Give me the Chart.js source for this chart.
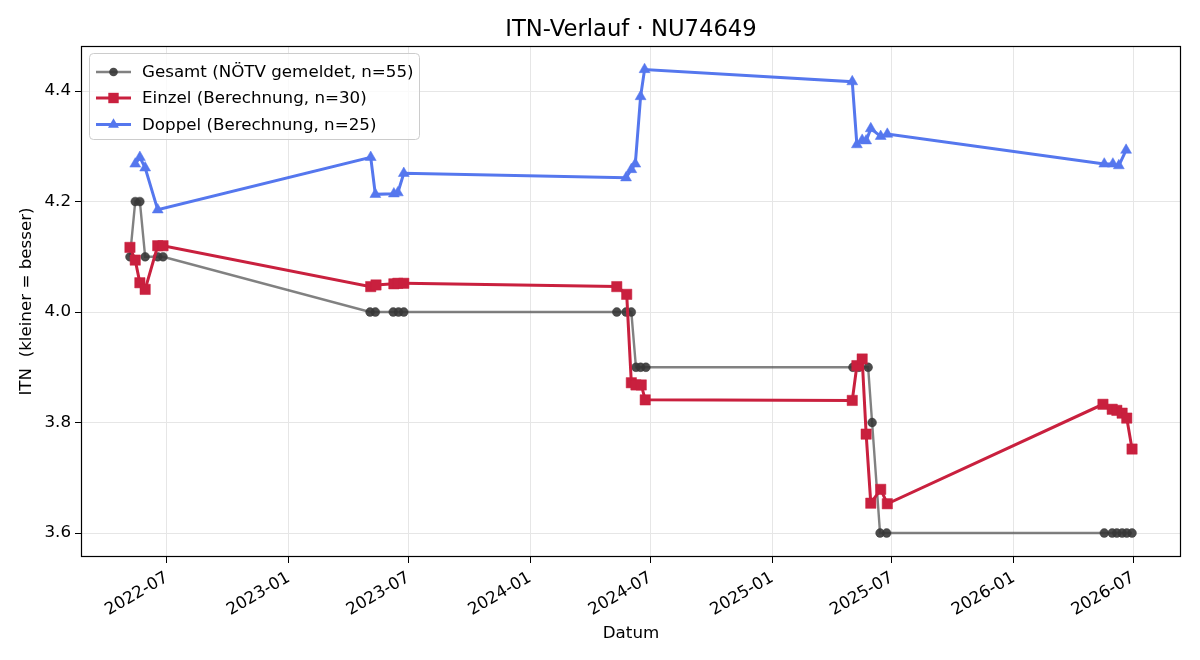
<!DOCTYPE html>
<html>
<head>
<meta charset="utf-8">
<script src="https://cdn.jsdelivr.net/npm/chart.js@4/dist/chart.umd.min.js"></script>
<style>
  html, body { margin: 0; padding: 0; background: #fff; }
  #c { display: block; }
</style>
</head>
<body>
<canvas id="c" width="1200" height="660"></canvas>
<script>
// Data
const gesamtDates = ['2022-05-06','2022-05-14','2022-05-21','2022-05-29','2022-06-17','2022-06-25',
  '2023-05-04','2023-05-12','2023-06-08','2023-06-16','2023-06-24',
  '2024-05-11','2024-05-25','2024-06-02','2024-06-09','2024-06-16','2024-06-24',
  '2025-05-03','2025-05-12','2025-05-26','2025-06-01','2025-06-13','2025-06-23',
  '2026-05-18','2026-05-30','2026-06-06','2026-06-14','2026-06-21','2026-06-29'];
const gesamtValues = [4.1,4.2,4.2,4.1,4.1,4.1,
  4.0,4.0,4.0,4.0,4.0,
  4.0,4.0,4.0,3.9,3.9,3.9,
  3.9,3.9,3.9,3.8,3.6,3.6,
  3.6,3.6,3.6,3.6,3.6,3.6];

const einzelDates = ['2022-05-06','2022-05-14','2022-05-21','2022-05-29','2022-06-17','2022-06-25',
  '2023-05-05','2023-05-13','2023-06-09','2023-06-15','2023-06-24',
  '2024-05-11','2024-05-26','2024-06-02','2024-06-09','2024-06-17','2024-06-23',
  '2025-05-02','2025-05-09','2025-05-17','2025-05-23','2025-05-30','2025-06-14','2025-06-24',
  '2026-05-16','2026-05-30','2026-06-06','2026-06-14','2026-06-21','2026-06-29'];
const einzelValues = [4.117,4.094,4.053,4.041,4.12,4.12,
  4.046,4.049,4.051,4.052,4.052,
  4.046,4.032,3.872,3.868,3.868,3.841,
  3.84,3.903,3.915,3.779,3.654,3.679,3.653,
  3.833,3.824,3.822,3.817,3.808,3.752];

const doppelDates = ['2022-05-14','2022-05-21','2022-05-29','2022-06-17',
  '2023-05-05','2023-05-12','2023-06-09','2023-06-15','2023-06-24',
  '2024-05-25','2024-06-02','2024-06-08','2024-06-16','2024-06-22',
  '2025-05-02','2025-05-09','2025-05-17','2025-05-23','2025-05-30','2025-06-14','2025-06-24',
  '2026-05-18','2026-05-31','2026-06-09','2026-06-20'];
const doppelValues = [4.268,4.28,4.261,4.185,
  4.28,4.213,4.214,4.216,4.251,
  4.243,4.258,4.268,4.39,4.439,
  4.417,4.303,4.311,4.31,4.332,4.318,4.322,
  4.268,4.268,4.265,4.293];

const xTickLabels = ['2022-07','2023-01','2023-07','2024-01','2024-07','2025-01','2025-07','2026-01','2026-07'];
const yTickValues = [3.6, 3.8, 4.0, 4.2, 4.4];

const seriesNames = ['Gesamt (NÖTV gemeldet, n=55)', 'Einzel (Berechnung, n=30)', 'Doppel (Berechnung, n=25)'];

// Styling
const FONT = '"DejaVu Sans", sans-serif';
const grey = 'rgba(70,70,70,0.68)';
const greyPt = 'rgba(55,55,55,0.9)';
const red = '#c9203e';
const blue = '#5577ee';

const pts = (dates, vals) => dates.map((d, i) => ({ x: Date.parse(d), y: vals[i] }));

const xMin = Date.parse('2022-02-21');
const xMax = Date.parse('2026-09-11');

// legend drawn inside the plot, like the original
const innerLegend = {
  id: 'innerLegend',
  afterDraw(chart) {
    const ctx = chart.ctx;
    const a = chart.chartArea;
    ctx.save();
    // frame around plot
    ctx.strokeStyle = '#000';
    ctx.lineWidth = 1.2;
    ctx.strokeRect(a.left + 0.5, a.top + 0.5, a.right - a.left - 1, a.bottom - a.top - 1);

    // title
    ctx.fillStyle = '#000';
    ctx.font = '22.7px ' + FONT;
    ctx.textAlign = 'center';
    ctx.textBaseline = 'alphabetic';
    ctx.fillText('ITN-Verlauf · NU74649', (a.left + a.right) / 2, 36);

    // legend box
    const bx = 89, by = 53, bw = 330, bh = 86;
    ctx.beginPath();
    ctx.roundRect(bx + 0.5, by + 0.5, bw, bh, 4);
    ctx.fillStyle = 'rgba(255,255,255,0.8)';
    ctx.fill();
    ctx.strokeStyle = '#cccccc';
    ctx.lineWidth = 1;
    ctx.stroke();

    const rows = [72, 98, 124.5];
    const colors = [grey, red, blue];
    const ptColors = [greyPt, red, blue];
    const widths = [2.4, 3, 3];
    rows.forEach((y, i) => {
      ctx.strokeStyle = colors[i];
      ctx.lineWidth = widths[i];
      ctx.beginPath();
      ctx.moveTo(96, y);
      ctx.lineTo(131, y);
      ctx.stroke();
      ctx.fillStyle = ptColors[i];
      ctx.beginPath();
      if (i === 0) {
        ctx.arc(113.5, y, 4.3, 0, Math.PI * 2);
      } else if (i === 1) {
        ctx.rect(113.5 - 5.2, y - 5.2, 10.4, 10.4);
      } else {
        const r = 6.3;
        ctx.moveTo(113.5, y - r);
        ctx.lineTo(113.5 + r * 0.866, y + r * 0.5);
        ctx.lineTo(113.5 - r * 0.866, y + r * 0.5);
        ctx.closePath();
      }
      ctx.fill();
      ctx.fillStyle = '#000';
      ctx.font = '16.7px ' + FONT;
      ctx.textAlign = 'left';
      ctx.textBaseline = 'middle';
      ctx.fillText(seriesNames[i], 142, y + 1);
    });
    ctx.restore();
  }
};

const chart = new Chart(document.getElementById('c'), {
  type: 'line',
  data: {
    datasets: [
      { label: seriesNames[0], data: pts(gesamtDates, gesamtValues), order: 3,
        borderColor: grey, borderWidth: 2.4, pointStyle: 'circle', pointRadius: 4.4,
        pointBackgroundColor: greyPt, pointBorderColor: greyPt, pointBorderWidth: 0.5, tension: 0 },
      { label: seriesNames[1], data: pts(einzelDates, einzelValues), order: 2,
        borderColor: red, borderWidth: 3, pointStyle: 'rect', pointRadius: 7.3,
        pointBackgroundColor: red, pointBorderColor: red, pointBorderWidth: 0.5, tension: 0 },
      { label: seriesNames[2], data: pts(doppelDates, doppelValues), order: 1,
        borderColor: blue, borderWidth: 3, pointStyle: 'triangle', pointRadius: 6.3,
        pointBackgroundColor: blue, pointBorderColor: blue, pointBorderWidth: 0.5, tension: 0 }
    ]
  },
  options: {
    responsive: false,
    animation: false,
    events: [],
    layout: { padding: { top: 46, right: 19, left: 0, bottom: 0 } },
    plugins: { legend: { display: false }, title: { display: false }, tooltip: { enabled: false } },
    scales: {
      x: {
        type: 'linear',
        min: xMin,
        max: xMax,
        afterBuildTicks: s => { s.ticks = xTickLabels.map(l => ({ value: Date.parse(l + '-01') })); },
        afterFit: s => { s.height = 103; },
        border: { display: false },
        grid: { color: '#e6e6e6', lineWidth: 1, tickColor: '#000', tickLength: 6 },
        ticks: {
          autoSkip: false, minRotation: 30, maxRotation: 30, padding: 5,
          color: '#000', font: { family: FONT, size: 16.7 },
          callback: v => xTickLabels[xTickLabels.findIndex(l => Date.parse(l + '-01') === v)]
        },
        title: { display: true, text: 'Datum', color: '#000', font: { family: FONT, size: 16.7 }, padding: { top: 0, bottom: 16 } }
      },
      y: {
        type: 'linear',
        min: 3.5566,
        max: 4.4815,
        afterBuildTicks: s => { s.ticks = yTickValues.map(v => ({ value: v })); },
        afterFit: s => { s.width = 81; },
        border: { display: false },
        grid: { color: '#e6e6e6', lineWidth: 1, tickColor: '#000', tickLength: 6 },
        ticks: { color: '#000', padding: 4, font: { family: FONT, size: 16.7 }, callback: v => v.toFixed(1) },
        title: { display: true, text: 'ITN  (kleiner = besser)', color: '#000', font: { family: FONT, size: 16.7 }, padding: { top: 17, bottom: 0 } }
      }
    }
  },
  plugins: [innerLegend]
});
</script>
</body>
</html>
